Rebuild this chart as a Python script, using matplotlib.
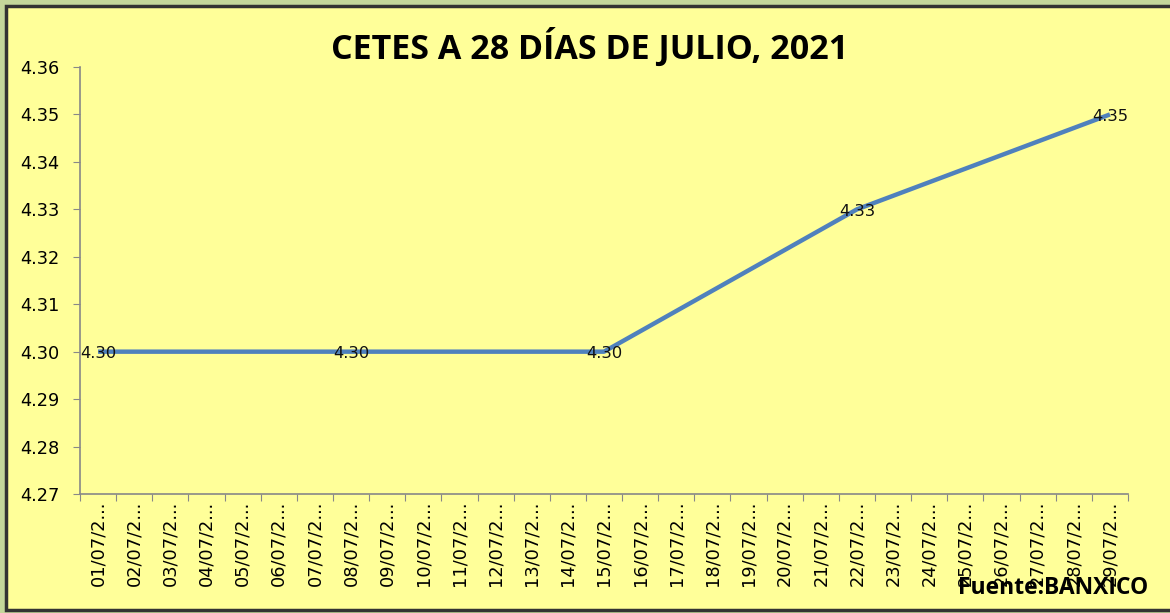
import matplotlib
matplotlib.use("Agg")
import matplotlib.pyplot as plt
from matplotlib.patches import Rectangle
import numpy as np

title = "CETES A 28 DÍAS DE JULIO, 2021"
source = "Fuente:BANXICO"
days = [f"{d:02d}/07/2..." for d in range(1, 30)]
point_days = [1, 8, 15, 22, 29]
point_values = [4.30, 4.30, 4.30, 4.33, 4.35]
point_labels = ["4.30", "4.30", "4.30", "4.33", "4.35"]
y_ticks = [4.27, 4.28, 4.29, 4.30, 4.31, 4.32, 4.33, 4.34, 4.35, 4.36]

plt.rcParams['font.family'] = ['DejaVu Sans']

fig = plt.figure(figsize=(11.7, 6.13), dpi=100, facecolor="#c4d79b")
W, H = 1170, 613
bg = Rectangle((6 / W, 3 / H), 1.2, (610 - 6) / H, transform=fig.transFigure,
               facecolor="#ffff99", edgecolor="#333333", linewidth=2.5, zorder=-10)
fig.patches.append(bg)

ax = fig.add_axes([80 / W, 119 / H, (1128 - 80) / W, (494 - 67) / H])
ax.set_zorder(5)
ax.set_facecolor("none")

xs = [d - 1 for d in point_days]
ax.plot(xs, point_values, color="#4f81bd", linewidth=3.2, solid_capstyle="butt", zorder=2)
for x, v, lab in zip(xs, point_values, point_labels):
    ax.text(x, v - 0.0004, lab, ha="center", va="center", fontsize=11.8, color="#111111", zorder=3)

ax.set_xlim(-0.5, len(days) - 0.5)
ax.set_ylim(4.27, 4.36)
ax.set_yticks(y_ticks)
ax.set_yticklabels([f"{t:.2f}" for t in y_ticks], fontsize=12.8)

ax.set_xticks(np.arange(-0.5, len(days), 1.0))
ax.set_xticklabels([])
ax.set_xticks(np.arange(len(days)), minor=True)
ax.set_xticklabels(days, minor=True, rotation=90, fontsize=12.8, va="top")
ax.tick_params(axis="x", which="major", length=5, color="#888888", direction="out")
ax.tick_params(axis="x", which="minor", length=0, pad=5)
ax.tick_params(axis="y", length=5, color="#888888", direction="out", pad=10)

for s in ["top", "right"]:
    ax.spines[s].set_visible(False)
for s in ["left", "bottom"]:
    ax.spines[s].set_color("#888888")
    ax.spines[s].set_linewidth(1.2)

fig.text(590 / W, 1 - 47 / H, title, ha="center", va="center", fontsize=24.5,
         fontweight="bold", color="#000000", zorder=6, family=["Open Sans", "DejaVu Sans"])
fig.text(1148 / W, 1 - 588 / H, source, ha="right", va="center", fontsize=16.5,
         fontweight="bold", color="#000000", zorder=6, family=["Open Sans", "DejaVu Sans"])

fig.savefig("out.png", dpi=100, facecolor=fig.get_facecolor())
